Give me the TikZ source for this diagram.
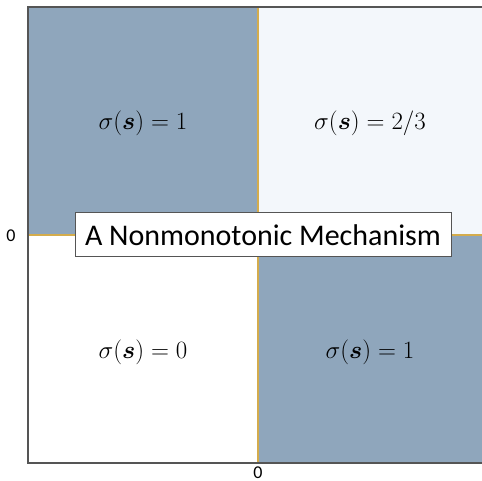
\documentclass[tikz,border=0pt]{standalone}
\usepackage{fontspec}
\setmainfont{Carlito}
\usepackage{amsmath,bm}
\definecolor{bluegray}{HTML}{8FA6BC}
\definecolor{lightq}{HTML}{F3F7FB}
\definecolor{goldl}{HTML}{D4AC4C}
\definecolor{axisg}{HTML}{555555}
\begin{document}
\begin{tikzpicture}[x=1pt,y=-1pt,
  quad/.style={font=\fontsize{27.5}{32}\selectfont},
  ticklab/.style={font=\fontsize{18}{20}\selectfont,inner sep=0pt},
  titlebox/.style={draw=axisg,fill=white,line width=1pt,font=\fontsize{30}{34}\selectfont,inner sep=0pt,minimum width=376pt,minimum height=44pt}]
\useasboundingbox (0,0) rectangle (482,481);
% quadrants
\fill[bluegray] (28,7) rectangle (258,235);
\fill[lightq] (258,7) rectangle (482,235);
\fill[white] (28,235) rectangle (258,463);
\fill[bluegray] (258,235) rectangle (482,463);
% boundaries
\draw[goldl,line width=1.2pt] (258,7) -- (258,463);
\draw[goldl,line width=1.2pt] (28,235) -- (482,235);
% axes
\draw[axisg,line width=1.5pt] (28,7) -- (482,7);
\draw[axisg,line width=1.5pt] (28,6.25) -- (28,463.75);
\draw[axisg,line width=1.5pt] (28,463) -- (482,463);
% labels
\node[quad] (q1) at (143,123) {$\sigma(\bm{s})=1$};
\node[quad] (q2) at (370,123) {$\sigma(\bm{s})=2/3$};
\node[quad] (q3) at (143,352) {$\sigma(\bm{s})=0$};
\node[quad] (q4) at (370,352) {$\sigma(\bm{s})=1$};
\node[titlebox] (title) at (263,235) {A Nonmonotonic Mechanism};
\node[ticklab,anchor=base] (y0) at (11,241.5) {0};
\node[ticklab,anchor=base] (x0) at (258,478) {0};
\end{tikzpicture}
\end{document}
